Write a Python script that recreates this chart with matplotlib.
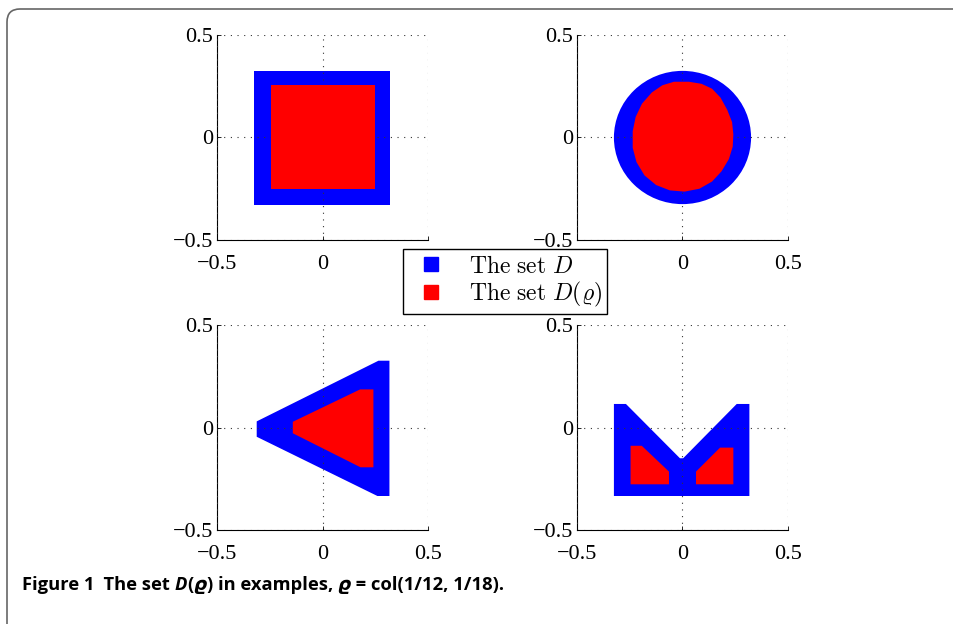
import matplotlib
matplotlib.use("Agg")
import matplotlib.pyplot as plt
from matplotlib.patches import Circle, FancyBboxPatch, Polygon
from matplotlib.lines import Line2D
from matplotlib.transforms import offset_copy

# ---- data (vertices in axis units) ----
ticks = [-0.5, 0, 0.5]
tick_labels = ["\u22120.5", "0", "0.5"]

square_D = [(-0.325, -0.330), (0.320, -0.330), (0.320, 0.325), (-0.325, 0.325)]
square_Drho = [(-0.244, -0.251), (0.248, -0.251), (0.248, 0.256), (-0.244, 0.256)]

circle_D_radius = 0.325
circle_Drho = [(-0.040, 0.272), (0.030, 0.272), (0.090, 0.262), (0.140, 0.238),
               (0.180, 0.195), (0.212, 0.135), (0.235, 0.075), (0.241, 0.015),
               (0.238, -0.045), (0.220, -0.105), (0.185, -0.165), (0.140, -0.215),
               (0.080, -0.250), (0.010, -0.264), (-0.060, -0.258), (-0.125, -0.232),
               (-0.180, -0.185), (-0.218, -0.120), (-0.236, -0.050), (-0.236, 0.030),
               (-0.222, 0.100), (-0.192, 0.165), (-0.145, 0.220), (-0.095, 0.255)]

triangle_D = [(-0.312, 0.030), (0.265, 0.326), (0.317, 0.326), (0.317, -0.334),
              (0.260, -0.334), (-0.312, -0.045)]
triangle_Drho = [(-0.141, 0.028), (0.178, 0.186), (0.241, 0.186), (0.241, -0.194),
                 (0.180, -0.194), (-0.141, -0.028)]

m_D = [(-0.325, 0.115), (-0.268, 0.115), (-0.012, -0.150), (0.003, -0.150),
       (0.257, 0.115), (0.317, 0.115), (0.317, -0.334), (-0.325, -0.334)]
m_Drho_left = [(-0.246, -0.089), (-0.193, -0.089), (-0.064, -0.215),
               (-0.064, -0.277), (-0.246, -0.277)]
m_Drho_right = [(0.064, -0.215), (0.178, -0.098), (0.241, -0.098),
                (0.241, -0.277), (0.064, -0.277)]

legend_labels = [r"$\mathrm{The\ set}\ D$", r"$\mathrm{The\ set}\ D(\varrho)$"]
blue = (0, 0, 1)
red = (1, 0, 0)

plt.rcParams["mathtext.fontset"] = "cm"

fig = plt.figure(figsize=(9.54, 6.24), dpi=100)

# rounded frame, cut off at right and bottom like the page crop
frame = FancyBboxPatch((0.07, -0.5), 10.0, 6.65, boxstyle="round,pad=0,rounding_size=0.13",
                       transform=fig.dpi_scale_trans, fill=False, edgecolor="#666666",
                       linewidth=1.2, clip_on=False)
fig.patches.append(frame)

positions = [(0.2275, 0.6154), (0.6048, 0.6154), (0.2275, 0.1506), (0.6048, 0.1506)]
axes = [fig.add_axes([x, y, 0.2212, 0.3285]) for x, y in positions]


def style_axes(ax):
    ax.set_xlim(-0.5, 0.5)
    ax.set_ylim(-0.5, 0.5)
    ax.set_xticks(ticks)
    ax.set_yticks(ticks)
    ax.set_xticklabels(tick_labels, fontsize=16, family="Liberation Serif")
    ax.set_yticklabels(tick_labels, fontsize=16, family="Liberation Serif")
    ax.tick_params(direction="in", length=3, width=0.6)
    ax.tick_params(axis="x", pad=11)
    ax.tick_params(axis="y", pad=3)
    ax.spines["top"].set_visible(False)
    ax.spines["right"].set_visible(False)
    for s in ("left", "bottom"):
        ax.spines[s].set_linewidth(0.8)
    ax.grid(True, linestyle=(0, (1, 5)), color="#333333", linewidth=0.8)
    ax.set_axisbelow(False)


# square
ax = axes[0]
ax.add_patch(Polygon(square_D, closed=True, facecolor=blue, edgecolor="none", zorder=2))
ax.add_patch(Polygon(square_Drho, closed=True, facecolor=red, edgecolor="none", zorder=3))

# circle
ax = axes[1]
ax.add_patch(Circle((0, 0), circle_D_radius, facecolor=blue, edgecolor="none", zorder=2))
ax.add_patch(Polygon(circle_Drho, closed=True, facecolor=red, edgecolor="none", zorder=3))

# triangle
ax = axes[2]
ax.add_patch(Polygon(triangle_D, closed=True, facecolor=blue, edgecolor="none", zorder=2))
ax.add_patch(Polygon(triangle_Drho, closed=True, facecolor=red, edgecolor="none", zorder=3))

# M shape
ax = axes[3]
ax.add_patch(Polygon(m_D, closed=True, facecolor=blue, edgecolor="none", zorder=2))
ax.add_patch(Polygon(m_Drho_left, closed=True, facecolor=red, edgecolor="none", zorder=3))
ax.add_patch(Polygon(m_Drho_right, closed=True, facecolor=red, edgecolor="none", zorder=3))

for ax in axes:
    style_axes(ax)

handles = [Line2D([], [], marker="s", linestyle="none", markersize=10,
                  markerfacecolor=c, markeredgecolor=c) for c in (blue, red)]
leg = fig.legend(handles, legend_labels, loc="center", bbox_to_anchor=(0.5294, 0.5489),
                 fontsize=17, frameon=True, fancybox=False, edgecolor="black",
                 framealpha=1.0, facecolor="white",
                 handletextpad=0.6, borderpad=0.2, labelspacing=0.1, handlelength=2.0,
                 borderaxespad=0)
leg.get_frame().set_linewidth(1.0)
leg.set_zorder(10)

# caption, built from runs so D and rho can be italic
runs = [("Figure 1", "normal"), ("  The set ", "normal"), ("D", "italic"), ("(", "normal"),
        ("\u03f1", "italic"), (") in examples, ", "normal"), ("\u03f1", "italic"),
        (" = col(1/12, 1/18).", "normal")]
renderer = fig.canvas.get_renderer()
x_px = 0.0
for txt, st in runs:
    t = fig.text(22 / 954, 0.0625, txt, fontsize=13.2, fontweight="bold", style=st,
                 family=["Open Sans", "DejaVu Sans"], va="center", ha="left",
                 transform=offset_copy(fig.transFigure, fig=fig, x=x_px, y=0, units="dots"))
    x_px += t.get_window_extent(renderer).width

fig.savefig("out.png", dpi=100)
